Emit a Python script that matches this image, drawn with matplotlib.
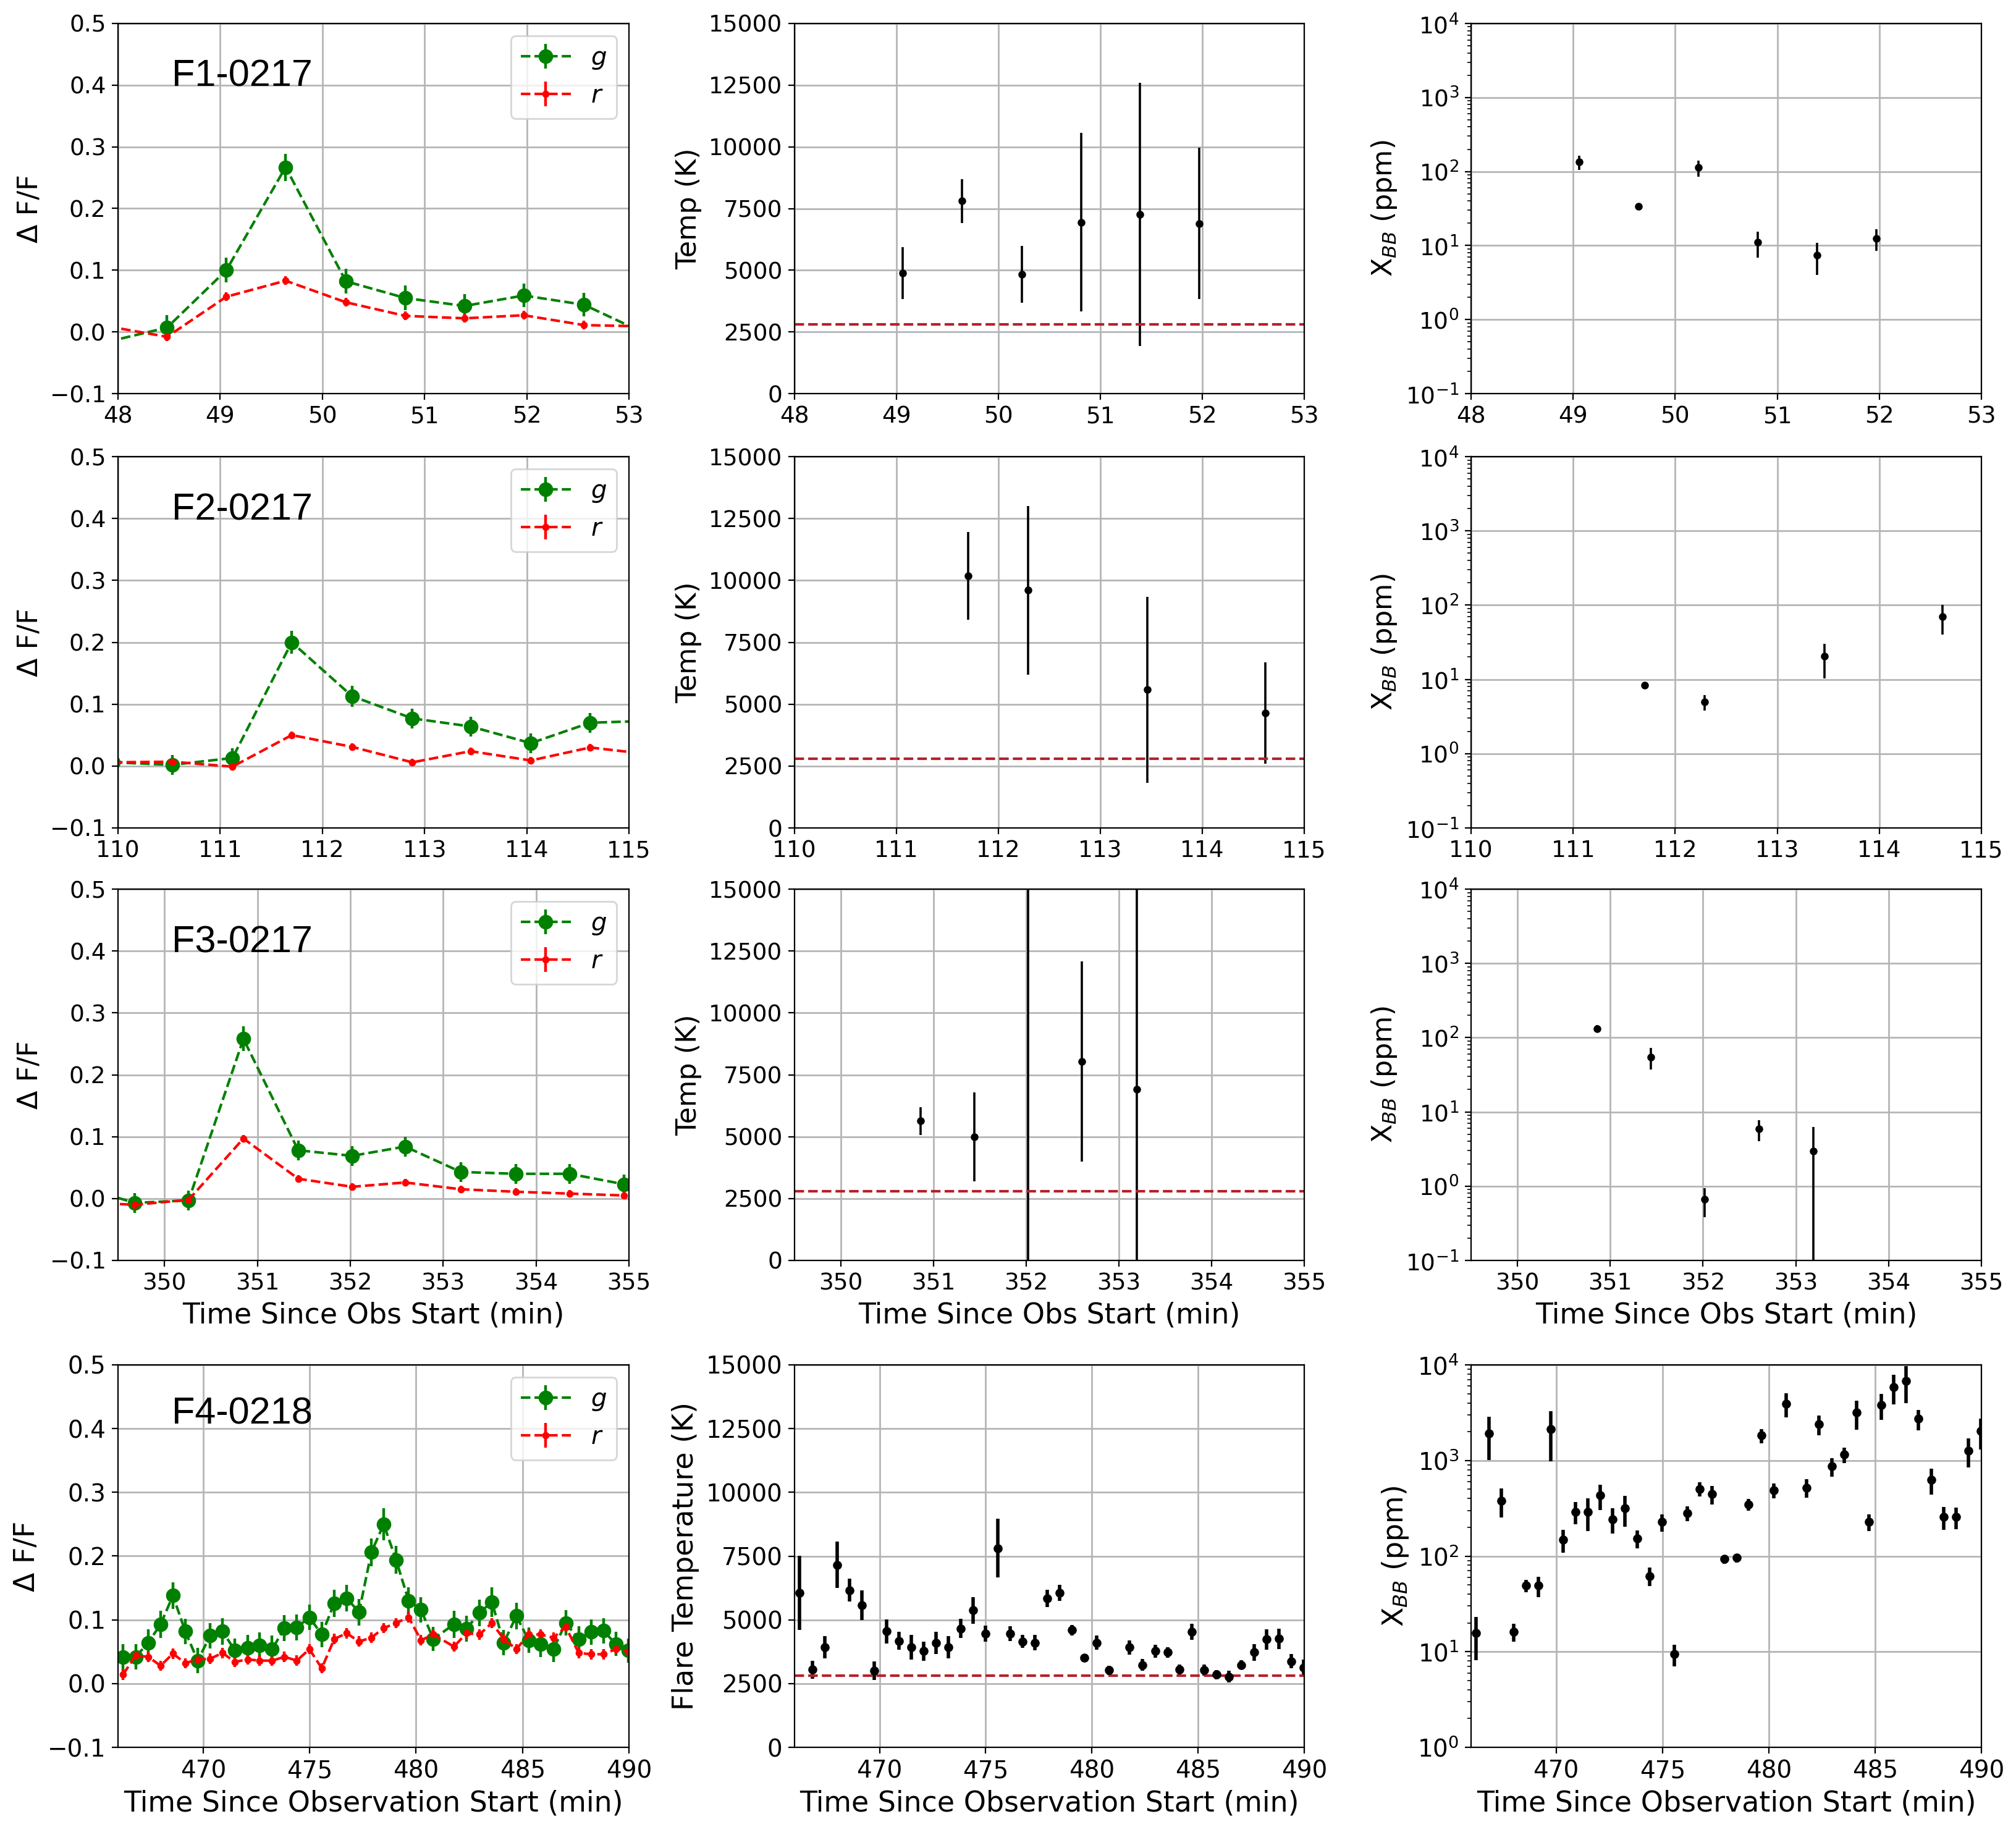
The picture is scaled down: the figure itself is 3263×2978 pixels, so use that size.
import matplotlib
matplotlib.use("Agg")
import matplotlib.pyplot as plt
from matplotlib.ticker import LogLocator, NullFormatter

# ---------------- DATA ----------------
# F1-0217
f1_t = [47.90, 48.48, 49.06, 49.64, 50.23, 50.81, 51.39, 51.97, 52.56, 53.14]
f1_g = [-0.016, 0.007, 0.100, 0.267, 0.082, 0.055, 0.042, 0.059, 0.044, -0.001]
f1_gerr = [0.020, 0.020, 0.020, 0.022, 0.020, 0.020, 0.019, 0.019, 0.019, 0.020]
f1_r = [0.009, -0.008, 0.057, 0.083, 0.048, 0.026, 0.022, 0.027, 0.011, 0.009]
f1_rerr = [0.007, 0.007, 0.007, 0.007, 0.007, 0.007, 0.007, 0.007, 0.007, 0.007]
f1_fit_t = [49.06, 49.64, 50.23, 50.81, 51.39, 51.97]
f1_temp = [4880, 7810, 4830, 6940, 7260, 6890]
f1_temp_err = [1050, 890, 1160, 3620, 5330, 3065]
f1_xbb = [135, 33.6, 113, 11.1, 7.4, 12.5]
f1_xbb_err = [30, 3, 28, 4.2, 3.4, 4.1]

# F2-0217
f2_t = [109.95, 110.53, 111.12, 111.70, 112.29, 112.88, 113.45, 114.04, 114.62, 115.20]
f2_g = [0.006, 0.002, 0.013, 0.200, 0.113, 0.077, 0.064, 0.037, 0.070, 0.073]
f2_gerr = [0.016, 0.016, 0.016, 0.018, 0.017, 0.016, 0.016, 0.016, 0.016, 0.016]
f2_r = [0.006, 0.007, -0.001, 0.050, 0.031, 0.006, 0.024, 0.009, 0.030, 0.019]
f2_rerr = [0.006, 0.006, 0.006, 0.006, 0.006, 0.006, 0.006, 0.006, 0.006, 0.006]
f2_fit_t = [111.70, 112.29, 113.46, 114.62]
f2_temp = [10180, 9600, 5580, 4640]
f2_temp_err = [1770, 3400, 3755, 2040]
f2_xbb = [8.4, 5.0, 20.4, 70]
f2_xbb_err = [0.8, 1.2, 10, 30]

# F3-0217
f3_t = [349.08, 349.68, 350.26, 350.85, 351.44, 352.02, 352.59, 353.19, 353.78, 354.36, 354.95]
f3_g = [0.020, -0.007, -0.003, 0.258, 0.078, 0.069, 0.084, 0.043, 0.040, 0.040, 0.023]
f3_gerr = [0.016, 0.016, 0.016, 0.020, 0.016, 0.016, 0.016, 0.016, 0.016, 0.016, 0.016]
f3_r = [-0.006, -0.010, -0.002, 0.097, 0.032, 0.019, 0.026, 0.015, 0.011, 0.008, 0.005]
f3_rerr = [0.006, 0.006, 0.006, 0.006, 0.006, 0.006, 0.006, 0.006, 0.006, 0.006, 0.006]
f3_fit_t = [350.86, 351.44, 352.02, 352.60, 353.19]
f3_temp = [5630, 4990, 16000, 8040, 6910]
f3_temp_err = [570, 1800, 17000, 4040, 9000]
f3_xbb = [132, 55, 0.66, 5.9, 2.95]
f3_xbb_err = [15, 18, 0.28, 1.85, 3.3]

# F4-0218
f4_t = [466.23, 466.83, 467.42, 468.00, 468.58, 469.16, 469.74, 470.33, 470.91, 471.49,
        472.08, 472.66, 473.24, 473.82, 474.40, 474.99, 475.57, 476.16, 476.74, 477.32,
        477.90, 478.48, 479.06, 479.65, 480.23, 480.81, 481.78, 482.37, 482.98, 483.56,
        484.12, 484.71, 485.29, 485.86, 486.45, 487.03, 487.64, 488.22, 488.80, 489.38,
        489.96]
f4_g = [0.042, 0.042, 0.064, 0.093, 0.138, 0.082, 0.036, 0.075, 0.082, 0.052,
        0.056, 0.060, 0.054, 0.087, 0.088, 0.104, 0.077, 0.126, 0.134, 0.112,
        0.206, 0.250, 0.194, 0.130, 0.116, 0.070, 0.093, 0.086, 0.111, 0.128,
        0.064, 0.106, 0.068, 0.062, 0.054, 0.095, 0.070, 0.081, 0.083, 0.062,
        0.052]
f4_gerr = [0.020, 0.020, 0.021, 0.021, 0.021, 0.020, 0.020, 0.020, 0.021, 0.019,
           0.020, 0.020, 0.021, 0.020, 0.020, 0.020, 0.020, 0.021, 0.021, 0.021,
           0.022, 0.025, 0.022, 0.021, 0.020, 0.019, 0.021, 0.020, 0.021, 0.023,
           0.020, 0.021, 0.020, 0.020, 0.020, 0.020, 0.020, 0.020, 0.020, 0.019,
           0.019]
f4_r = [0.014, 0.044, 0.042, 0.028, 0.047, 0.032, 0.038, 0.039, 0.048, 0.034,
        0.038, 0.036, 0.036, 0.042, 0.036, 0.054, 0.024, 0.070, 0.079, 0.066,
        0.072, 0.087, 0.095, 0.104, 0.068, 0.077, 0.058, 0.079, 0.077, 0.095,
        0.070, 0.054, 0.077, 0.077, 0.072, 0.089, 0.048, 0.046, 0.046, 0.054,
        0.050]
f4_rerr = [0.008] * 41
f4_temp = [6060, 3050, 3920, 7160, 6160, 5570, 3000, 4550, 4170, 3920,
           3770, 4100, 3920, 4660, 5370, 4460, 7810, 4460, 4150, 4100,
           5850, 6060, 4600, 3510, 4100, 3020, 3920, 3230, 3770, 3720,
           3050, 4530, 3020, 2850, 2770, 3230, 3720, 4230, 4260, 3380,
           3130]
f4_temp_err = [1450, 350, 430, 900, 450, 590, 370, 470, 350, 480,
               380, 430, 430, 380, 530, 320, 1150, 300, 250, 300,
               340, 320, 210, 140, 280, 190, 280, 230, 250, 200,
               200, 320, 220, 180, 230, 180, 330, 400, 400, 280,
               300]
f4_xbb = [15.7, 1930, 381, 16.2, 49, 49, 2120, 148, 291, 291,
          431, 244, 316, 153, 62, 227, 9.4, 281, 504, 443,
          93, 96, 347, 1830, 489, 3940, 520, 2400, 869, 1150,
          3170, 227, 3820, 5850, 6830, 2730, 628, 257, 257, 1270,
          2020]
f4_xbb_err = [7.5, 925, 128, 3.4, 7, 12, 1145, 40, 77, 108,
              128, 72, 112, 32, 13.5, 48, 2.4, 48, 86, 95,
              10, 10, 50, 312, 86, 1107, 113, 560, 192, 210,
              1066, 45, 1172, 2020, 2870, 658, 190, 69, 66, 430,
              712]

T_QUIESCENT = 2800

flares = [
    dict(name="F1-0217", t=f1_t, g=f1_g, gerr=f1_gerr, r=f1_r, rerr=f1_rerr,
         ft=f1_fit_t, T=f1_temp, Terr=f1_temp_err, X=f1_xbb, Xerr=f1_xbb_err,
         xlim=(48, 53), xticks=[48, 49, 50, 51, 52, 53]),
    dict(name="F2-0217", t=f2_t, g=f2_g, gerr=f2_gerr, r=f2_r, rerr=f2_rerr,
         ft=f2_fit_t, T=f2_temp, Terr=f2_temp_err, X=f2_xbb, Xerr=f2_xbb_err,
         xlim=(110, 115), xticks=[110, 111, 112, 113, 114, 115]),
    dict(name="F3-0217", t=f3_t, g=f3_g, gerr=f3_gerr, r=f3_r, rerr=f3_rerr,
         ft=f3_fit_t, T=f3_temp, Terr=f3_temp_err, X=f3_xbb, Xerr=f3_xbb_err,
         xlim=(349.5, 355), xticks=[350, 351, 352, 353, 354, 355]),
    dict(name="F4-0218", t=f4_t, g=f4_g, gerr=f4_gerr, r=f4_r, rerr=f4_rerr,
         ft=f4_t, T=f4_temp, Terr=f4_temp_err, X=f4_xbb, Xerr=f4_xbb_err,
         xlim=(466, 490), xticks=[470, 475, 480, 485, 490]),
]

# ---------------- LAYOUT ----------------
W, H = 3263, 2978
fig = plt.figure(figsize=(W / 200, H / 200), dpi=200)
plt.rcParams['font.family'] = ['DejaVu Sans']

cols = [(191, 1018), (1286, 2111), (2381, 3207)]
rows = [(38, 637), (739, 1340), (1439, 2040), (2209, 2828)]


def rect(c, r):
    x0, x1 = c
    y0, y1 = r
    return [x0 / W, 1 - y1 / H, (x1 - x0) / W, (y1 - y0) / H]


GRID = dict(color='#b5b5b5', lw=1.0)

for i, fl in enumerate(flares):
    bottom = (i == 3)
    tick_fs = 14 if bottom else 13.5
    lab_fs = 16.5 if bottom else 16
    xlab_fs = 16.5
    elw_k = 2.0 if bottom else 1.3
    ms_k = 8.5 if bottom else 7

    # ---- light curve ----
    ax = fig.add_axes(rect(cols[0], rows[i]))
    ax.errorbar(fl['t'], fl['g'], yerr=fl['gerr'], fmt='--o', color='green',
                ms=7.5, lw=1.5, elinewidth=1.6, label='$g$')
    ax.errorbar(fl['t'], fl['r'], yerr=fl['rerr'], fmt='--o', color='red',
                ms=3.2, lw=1.5, elinewidth=1.6, label='$r$')
    ax.set_xlim(*fl['xlim'])
    ax.set_ylim(-0.1, 0.5)
    ax.set_yticks([-0.1, 0.0, 0.1, 0.2, 0.3, 0.4, 0.5])
    ax.set_xticks(fl['xticks'])
    ax.grid(True, **GRID)
    ax.set_axisbelow(True)
    ax.set_ylabel('Δ F/F', fontsize=lab_fs)
    ax.tick_params(labelsize=tick_fs)
    ax.legend(loc='upper right', fontsize=14.5, framealpha=0.8)
    ax.text(0.105, 0.845 if bottom else 0.83, fl['name'], transform=ax.transAxes,
            fontsize=22, family='Liberation Sans', va='baseline')

    # ---- temperature ----
    ax2 = fig.add_axes(rect(cols[1], rows[i]))
    ax2.errorbar(fl['ft'], fl['T'], yerr=fl['Terr'], fmt='k.', ms=ms_k,
                 elinewidth=elw_k, ecolor='k')
    ax2.axhline(T_QUIESCENT, color='#b5202a', ls='--', lw=1.5)
    ax2.set_xlim(*fl['xlim'])
    ax2.set_ylim(0, 15000)
    ax2.set_yticks([0, 2500, 5000, 7500, 10000, 12500, 15000])
    ax2.set_xticks(fl['xticks'])
    ax2.grid(True, **GRID)
    ax2.set_axisbelow(True)
    ax2.set_ylabel('Flare Temperature (K)' if bottom else 'Temp (K)', fontsize=lab_fs)
    ax2.tick_params(labelsize=tick_fs)

    # ---- X_BB ----
    ax3 = fig.add_axes(rect(cols[2], rows[i]))
    ax3.set_yscale('log')
    ax3.errorbar(fl['ft'], fl['X'], yerr=fl['Xerr'], fmt='k.', ms=ms_k,
                 elinewidth=elw_k, ecolor='k')
    ax3.set_xlim(*fl['xlim'])
    if bottom:
        ax3.set_ylim(1, 1e4)
        ax3.set_yticks([1, 10, 100, 1000, 10000])
    else:
        ax3.set_ylim(0.1, 1e4)
        ax3.set_yticks([0.1, 1, 10, 100, 1000, 10000])
    ax3.yaxis.set_minor_locator(LogLocator(base=10, subs=range(2, 10), numticks=20))
    ax3.yaxis.set_minor_formatter(NullFormatter())
    ax3.set_xticks(fl['xticks'])
    ax3.grid(True, which='major', **GRID)
    ax3.set_axisbelow(True)
    ax3.set_ylabel('X$_{BB}$ (ppm)', fontsize=lab_fs)
    ax3.tick_params(labelsize=tick_fs)

    if i == 2:
        for a in (ax, ax2, ax3):
            a.set_xlabel('Time Since Obs Start (min)', fontsize=xlab_fs)
    if i == 3:
        for a in (ax, ax2, ax3):
            a.set_xlabel('Time Since Observation Start (min)', fontsize=xlab_fs)

fig.savefig('out.png', dpi=200)
